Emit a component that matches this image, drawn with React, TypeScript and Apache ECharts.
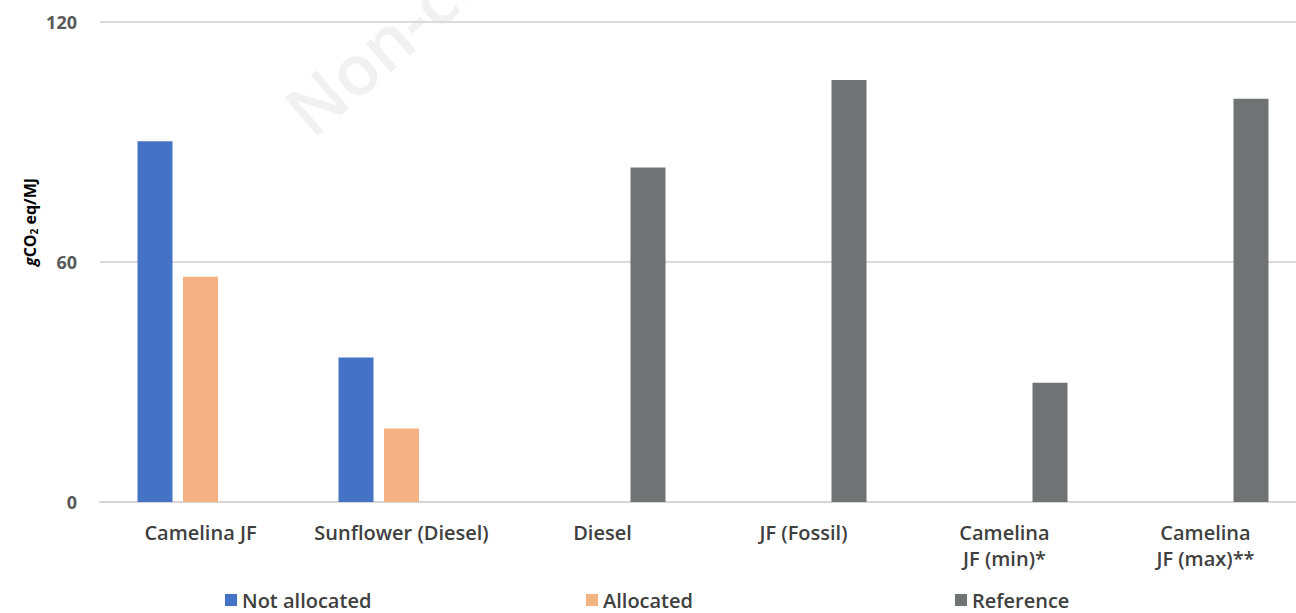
import React, { useEffect, useRef } from "react";
import * as echarts from "echarts";

const categories = [
  "Camelina JF",
  "Sunflower (Diesel)",
  "Diesel",
  "JF (Fossil)",
  "Camelina\nJF (min)*",
  "Camelina\nJF (max)**",
];
const notAllocated = [90.2, 36.1, null, null, null, null];
const allocated = [56.3, 18.4, null, null, null, null];
const reference = [null, null, 83.6, 105.5, 29.8, 100.8];
const yTicks = [0, 60, 120];

export default function App() {
  const ref = useRef<HTMLDivElement>(null);
  useEffect(() => {
    const chart = echarts.init(ref.current!, null, { renderer: "svg" });
    const font = "'Open Sans', sans-serif";
    const legendText = { fontFamily: font, fontSize: 20, lineHeight: 20, fontWeight: 600, color: "#404040" };
    const legendBase = {
      top: 590,
      icon: "rect",
      itemWidth: 12,
      itemHeight: 12,
      itemGap: 0,
      padding: 0,
      textStyle: legendText,
    };
    chart.setOption({
      animation: false,
      backgroundColor: "#ffffff",
      graphic: [
        {
          type: "text",
          x: 318,
          y: 146,
          rotation: (41 * Math.PI) / 180,
          z: -10,
          silent: true,
          style: {
            text: "Non-commercial use",
            fontFamily: font,
            fontSize: 70,
            fontWeight: 600,
            fill: "#f1f1f1",
            verticalAlign: "bottom",
          },
        },
        {
          type: "text",
          x: 30,
          y: 222,
          rotation: Math.PI / 2,
          silent: true,
          style: {
            text: "{i|g}{b|CO}{s|2}{b| eq/MJ}",
            align: "center",
            verticalAlign: "middle",
            fill: "#000000",
            rich: {
              i: { fontFamily: font, fontWeight: "bold", fontStyle: "italic", fontSize: 16, fill: "#000" },
              b: { fontFamily: font, fontWeight: "bold", fontSize: 16, fill: "#000" },
              s: { fontFamily: font, fontWeight: "bold", fontSize: 10, fill: "#000", padding: [8, 0, 0, 0] },
            },
          },
        },
      ],
      grid: { left: 100, right: 4, top: 22, height: 480, containLabel: false },
      legend: [
        { ...legendBase, data: ["Not allocated"], left: 225 },
        { ...legendBase, data: ["Allocated"], left: 586 },
        { ...legendBase, data: ["Reference"], left: 955 },
      ],
      xAxis: {
        type: "category",
        data: categories,
        axisTick: { show: false },
        axisLine: { lineStyle: { color: "#d9d5d5", width: 2 } },
        axisLabel: {
          margin: 17,
          interval: 0,
          fontFamily: font,
          fontSize: 20,
          fontWeight: 600,
          color: "#404040",
          lineHeight: 26,
          verticalAlign: "top",
        },
      },
      yAxis: {
        type: "value",
        min: 0,
        max: 120,
        interval: 60,
        axisLabel: {
          margin: 23,
          fontFamily: font,
          fontWeight: "bold",
          fontSize: 18,
          color: "#595959",
          formatter: (v: number) => (yTicks.includes(v) ? String(v) : ""),
        },
        splitLine: { lineStyle: { color: "#dedada", width: 2 } },
        axisLine: { show: false },
        axisTick: { show: false },
      },
      series: [
        {
          name: "Not allocated",
          type: "bar",
          data: notAllocated,
          barWidth: 35,
          barGap: "30%",
          itemStyle: { color: "#4472c4" },
        },
        {
          name: "Allocated",
          type: "bar",
          data: allocated,
          barWidth: 35,
          barGap: "30%",
          itemStyle: { color: "#f4b183" },
        },
        {
          name: "Reference",
          type: "bar",
          data: reference,
          barWidth: 35,
          barGap: "30%",
          itemStyle: { color: "#6f7374" },
        },
      ],
    });
    return () => chart.dispose();
  }, []);
  return (
    <div
      ref={ref}
      style={{ position: "fixed", left: 0, top: 0, width: 1310, height: 613 }}
    />
  );
}
